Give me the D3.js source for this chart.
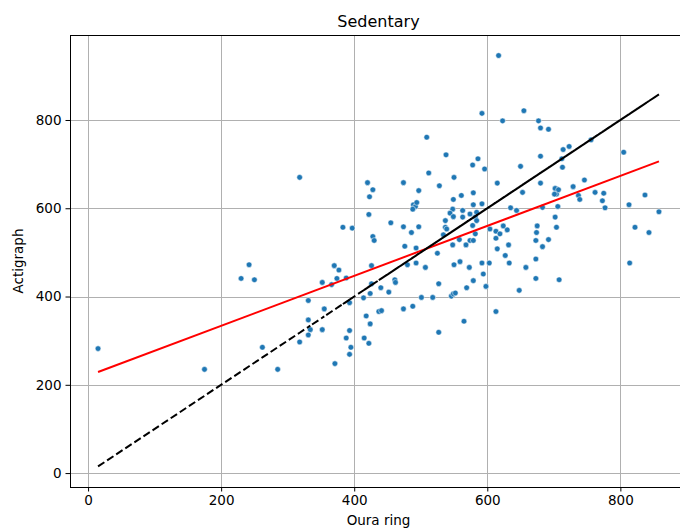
<!DOCTYPE html>
<html>
<head>
<meta charset="utf-8">
<script src="https://cdn.jsdelivr.net/npm/d3@7"></script>
<style>
	body { margin: 0; background: #fff; }
	text { font-family: "DejaVu Sans", sans-serif; fill: #000; }
</style>
</head>
<body>
<div id="chart"></div>
<script>
// Oura ring vs Actigraph, sedentary minutes
const ouraRing = [15, 175, 230, 242, 250, 262, 285, 318, 318, 331, 331, 334, 331, 352, 355, 352,
	366, 370, 371, 374, 377, 388, 393, 393, 388, 395, 393, 383, 397, 420, 428, 423, 422, 428, 430,
	426, 426, 424, 414, 418, 424, 415, 422, 440, 452, 437, 441, 461, 462, 474, 488, 501, 518, 527,
	527, 455, 474, 474, 497, 497, 489, 492, 494, 488, 486, 476, 493, 525, 480, 493, 507, 509, 538,
	586, 578, 596, 650, 680, 512, 550, 528, 615, 680, 704, 549, 561, 579, 579, 592, 704, 548, 544,
	563, 574, 584, 635, 644, 683, 549, 563, 582, 537, 537, 584, 578, 604, 613, 619, 624, 630, 675,
	674, 617, 592, 655, 623, 677, 680, 692, 723, 714, 756, 805, 712, 713, 746, 702, 707, 729, 762,
	775, 837, 701, 737, 739, 773, 777, 706, 813, 858, 653, 702, 704, 673, 683, 692, 822, 843, 814,
	658, 534, 539, 548, 558, 568, 574, 579, 582, 613, 632, 615, 627, 633, 673, 673, 708, 550, 559,
	573, 592, 603, 594, 579, 569, 598, 546, 549, 552, 648, 613, 565];
const actigraph = [282, 235, 441, 472, 438, 285, 235, 670, 297, 391, 347, 325, 313, 432, 372, 325,
	427, 470, 248, 441, 460, 442, 386, 323, 306, 285, 269, 557, 555, 658, 642, 626, 586, 536, 527,
	470, 429, 407, 397, 356, 338, 306, 294, 420, 410, 366, 368, 438, 432, 372, 378, 398, 398, 429,
	319, 567, 658, 558, 640, 558, 608, 604, 613, 598, 545, 514, 510, 498, 472, 476, 466, 761, 721,
	712, 698, 689, 695, 718, 680, 670, 651, 657, 657, 644, 620, 629, 635, 608, 610, 632, 598, 589,
	595, 587, 591, 601, 595, 602, 581, 580, 580, 572, 557, 572, 561, 553, 548, 542, 560, 551, 560,
	545, 946, 815, 821, 798, 798, 782, 779, 740, 733, 755, 727, 712, 693, 664, 645, 642, 649, 636,
	634, 630, 632, 629, 620, 617, 601, 604, 608, 592, 636, 580, 557, 527, 513, 529, 557, 545, 476,
	466, 540, 553, 517, 529, 517, 527, 527, 542, 532, 517, 508, 493, 476, 485, 441, 438, 472, 479,
	466, 476, 476, 451, 436, 420, 423, 401, 406, 408, 414, 366, 344];

// least squares line as drawn (slope, intercept)
const fitCoef = [0.566, 220.5];

const xTicks = [0, 200, 400, 600, 800];
const yTicks = [0, 200, 400, 600, 800];

const W = 680, H = 530;
const M = { left: 70, top: 35, right: 687, bottom: 487 };

const svg = d3.select('#chart').append('svg')
	.attr('width', W)
	.attr('height', H);

// autoscale like matplotlib: data range + 5% margins
function padded(lo, hi) {
	const m = (hi - lo) * 0.05;
	return [lo - m, hi + m];
}
const xExt = d3.extent(ouraRing);
const yExt = [Math.min(d3.min(actigraph), xExt[0]), Math.max(d3.max(actigraph), xExt[1])];

const x = d3.scaleLinear().domain(padded(xExt[0], xExt[1])).range([M.left, M.right]);
const y = d3.scaleLinear().domain(padded(yExt[0], yExt[1])).range([M.bottom, M.top]);

// grid
const grid = svg.append('g').attr('stroke', '#b0b0b0').attr('stroke-width', 1);
grid.selectAll('.gx').data(xTicks).enter().append('line')
	.attr('x1', d => Math.round(x(d)) + 0.5).attr('x2', d => Math.round(x(d)) + 0.5)
	.attr('y1', M.top).attr('y2', M.bottom);
grid.selectAll('.gy').data(yTicks).enter().append('line')
	.attr('y1', d => Math.round(y(d)) + 0.5).attr('y2', d => Math.round(y(d)) + 0.5)
	.attr('x1', M.left).attr('x2', M.right);

// scatter
const pts = ouraRing.map((v, i) => [v, actigraph[i]]);
svg.append('g').selectAll('circle')
	.data(pts)
	.enter().append('circle')
	.attr('cx', d => x(d[0]))
	.attr('cy', d => y(d[1]))
	.attr('r', 2.8)
	.attr('fill', '#1f77b4')
	.attr('stroke', '#fff')
	.attr('stroke-width', 0.5);

// regression line, red
const fitLine = d3.line().x(d => x(d)).y(d => y(fitCoef[0] * d + fitCoef[1]));
svg.append('path')
	.attr('d', fitLine(xExt))
	.attr('fill', 'none')
	.attr('stroke', 'red')
	.attr('stroke-width', 2);

// identity line, dashed, drawn through x in data order (unsorted, like plt.plot(x, x, 'k--'))
const idLine = d3.line().x(d => x(d)).y(d => y(d));
svg.append('path')
	.attr('d', idLine(ouraRing))
	.attr('fill', 'none')
	.attr('stroke', '#000')
	.attr('stroke-width', 2)
	.attr('stroke-dasharray', '7.6,3.3');

// axes
const xAxis = svg.append('g')
	.attr('transform', 'translate(0,' + M.bottom + ')')
	.call(d3.axisBottom(x).tickValues(xTicks).tickSize(4.5).tickPadding(4).tickFormat(d3.format('d')));
const yAxis = svg.append('g')
	.attr('transform', 'translate(' + M.left + ',0)')
	.call(d3.axisLeft(y).tickValues(yTicks).tickSize(4.5).tickPadding(4).tickFormat(d3.format('d')));
[xAxis, yAxis].forEach(a => {
	a.select('.domain').remove();
	a.selectAll('text').attr('font-size', 13.5).attr('font-family', '"DejaVu Sans", sans-serif').attr('fill', '#000');
	a.selectAll('line').attr('stroke', '#000').attr('stroke-width', 1);
});

// spines
svg.append('rect')
	.attr('x', M.left + 0.5)
	.attr('y', M.top + 0.5)
	.attr('width', M.right - M.left)
	.attr('height', M.bottom - M.top)
	.attr('fill', 'none')
	.attr('stroke', '#000')
	.attr('stroke-width', 1);

// labels
svg.append('text')
	.attr('x', (M.left + M.right) / 2)
	.attr('y', 27)
	.attr('text-anchor', 'middle')
	.attr('font-size', 16)
	.text('Sedentary');
svg.append('text')
	.attr('x', (M.left + M.right) / 2)
	.attr('y', 525)
	.attr('text-anchor', 'middle')
	.attr('font-size', 13.5)
	.text('Oura ring');
svg.append('text')
	.attr('transform', 'translate(23,' + (M.top + M.bottom) / 2 + ') rotate(-90)')
	.attr('text-anchor', 'middle')
	.attr('font-size', 13.5)
	.text('Actigraph');
</script>
</body>
</html>
